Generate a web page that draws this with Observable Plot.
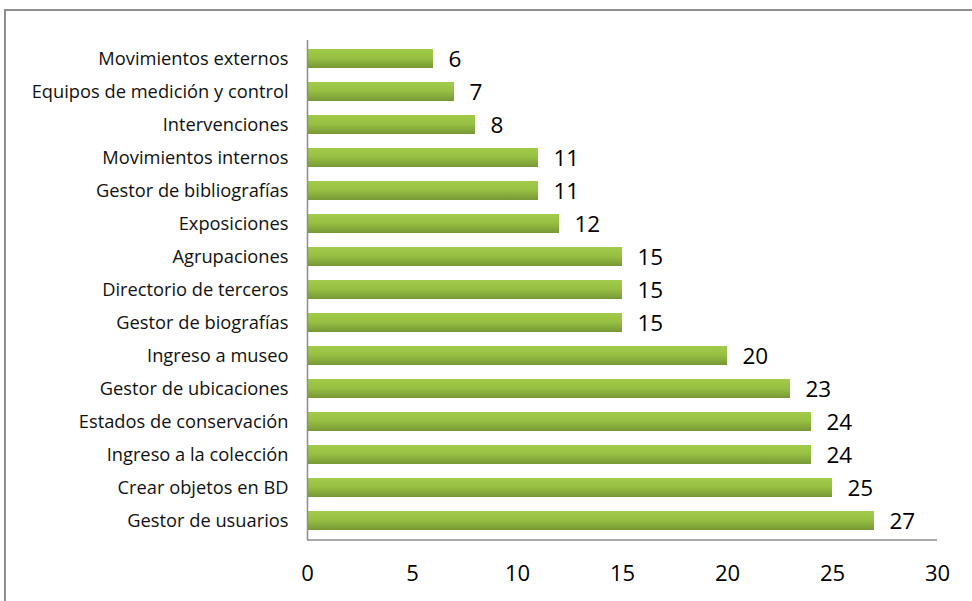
<!DOCTYPE html>
<html><head><meta charset="utf-8">
<script src="https://cdn.jsdelivr.net/npm/d3@7"></script>
<script src="https://cdn.jsdelivr.net/npm/@observablehq/plot@0.6"></script>
<style>
body{margin:0;background:#fff;overflow:hidden;}
#wrap{position:relative;width:972px;height:601px;}
#border{position:absolute;left:4px;top:9px;width:1000px;height:700px;border:2px solid #8e8e8e;box-sizing:border-box;pointer-events:none;}
</style>
</head><body>
<div id="wrap"><div id="border"></div></div>
<script>
const categories = ["Movimientos externos","Equipos de medición y control","Intervenciones","Movimientos internos","Gestor de bibliografías","Exposiciones","Agrupaciones","Directorio de terceros","Gestor de biografías","Ingreso a museo","Gestor de ubicaciones","Estados de conservación","Ingreso a la colección","Crear objetos en BD","Gestor de usuarios"];
const values = [6,7,8,11,11,12,15,15,15,20,23,24,24,25,27];
const xTicks = [0,5,10,15,20,25,30];
const data = categories.map((c,i)=>({cat:c, v:values[i]}));

const chart = Plot.plot({
  width: 972, height: 601,
  marginLeft: 307, marginRight: 35, marginTop: 40, marginBottom: 61,
  style: {fontFamily: "'Open Sans', sans-serif", background: "transparent"},
  x: {domain: [0,30], ticks: xTicks},
  y: {domain: categories, paddingInner: 0.41, paddingOuter: 0.205},
  marks: [
    Plot.barX(data, {y: "cat", x: "v", fill: "url(#barGrad)", style: {filter: "url(#shadow)"}}),
    Plot.text(data, {y: "cat", x: "v", text: d => String(d.v), textAnchor: "start", dx: 15, dy: 1, fontSize: 22.5, fill: "#000"}),
    Plot.ruleX([0], {stroke: "#8c8c8c", strokeWidth: 1.5}),
    Plot.axisY({tickSize: 0, tickPadding: 19, fontSize: 18.3, fill: "#111", label: null, dy: 0}),
    Plot.axisX({ticks: xTicks, tickSize: 0, tickPadding: 25, fontSize: 22, fill: "#000", label: null, tickFormat: d => String(d)})
  ]
});
const svg = d3.select(chart);
const defs = svg.insert("defs", ":first-child");
const g = defs.append("linearGradient").attr("id","barGrad").attr("x1",0).attr("y1",0).attr("x2",0).attr("y2",1);
g.append("stop").attr("offset","0%").attr("stop-color","#a2cb4c");
g.append("stop").attr("offset","45%").attr("stop-color","#98c143");
g.append("stop").attr("offset","100%").attr("stop-color","#779836");
const f = defs.append("filter").attr("id","shadow").attr("x","-10%").attr("y","-30%").attr("width","130%").attr("height","190%");
f.append("feDropShadow").attr("dx",3).attr("dy",3).attr("stdDeviation",2).attr("flood-color","#000").attr("flood-opacity",0.3);
const xs = chart.scale("x");
const yr = chart.scale("y").range;
svg.append("line").attr("x1", xs.apply(0)).attr("x2", xs.apply(30)).attr("y1", yr[1]).attr("y2", yr[1]).attr("stroke","#8c8c8c").attr("stroke-width",1.5);
document.getElementById("wrap").appendChild(chart);
chart.style.position="absolute"; chart.style.left="0"; chart.style.top="0";
</script>
</body></html>
